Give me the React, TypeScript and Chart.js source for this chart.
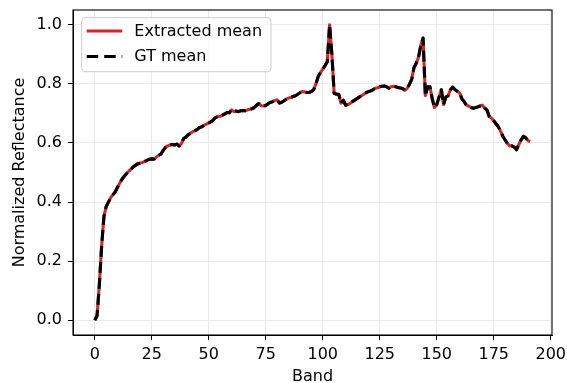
import React, { useEffect, useRef } from "react";
import { Chart, registerables } from "chart.js";

Chart.register(...registerables);

const W = 567;
const H = 383;

const xTicks = [0, 25, 50, 75, 100, 125, 150, 175, 200];
const yTicks = [0, 0.2, 0.4, 0.6, 0.8, 1.0];

const extractedMean = [
  0.0, 0.015, 0.12, 0.25, 0.35, 0.385, 0.4, 0.415, 0.425, 0.435,
  0.45, 0.465, 0.478, 0.488, 0.497, 0.505, 0.512, 0.52, 0.525, 0.53,
  0.532, 0.534, 0.538, 0.542, 0.545, 0.546, 0.545, 0.552, 0.558, 0.562,
  0.575, 0.585, 0.59, 0.593, 0.595, 0.593, 0.596, 0.59, 0.598, 0.615,
  0.62, 0.628, 0.633, 0.638, 0.642, 0.646, 0.652, 0.655, 0.66, 0.664,
  0.668, 0.672, 0.678, 0.686, 0.69, 0.69, 0.694, 0.698, 0.703, 0.702,
  0.712, 0.706, 0.708, 0.706, 0.709, 0.71, 0.709, 0.712, 0.714, 0.716,
  0.72, 0.728, 0.733, 0.726, 0.725, 0.727, 0.733, 0.737, 0.74, 0.744,
  0.746, 0.735, 0.738, 0.743, 0.748, 0.752, 0.754, 0.757, 0.76, 0.765,
  0.77, 0.774, 0.773, 0.771, 0.771, 0.774, 0.78, 0.8, 0.825, 0.838,
  0.85, 0.862, 0.875, 1.0, 0.9, 0.768, 0.765, 0.765, 0.735, 0.745,
  0.728, 0.73, 0.734, 0.74, 0.745, 0.75, 0.755, 0.76, 0.765, 0.77,
  0.774, 0.776, 0.78, 0.785, 0.787, 0.79, 0.792, 0.793, 0.79, 0.785,
  0.79, 0.792, 0.79, 0.788, 0.786, 0.784, 0.778, 0.785, 0.798, 0.815,
  0.855, 0.87, 0.89, 0.93, 0.955, 0.76, 0.79, 0.79, 0.75, 0.72,
  0.73, 0.755, 0.78, 0.73, 0.755, 0.76, 0.78, 0.789, 0.78, 0.775,
  0.77, 0.75, 0.74, 0.728, 0.725, 0.72, 0.717, 0.72, 0.722, 0.725,
  0.728, 0.718, 0.712, 0.69, 0.684, 0.675, 0.665, 0.655, 0.64, 0.622,
  0.61, 0.598, 0.59, 0.59, 0.586, 0.577, 0.595, 0.61, 0.622, 0.618,
  0.608, 0.605,
];

const gtMean = [
  0.0, 0.015, 0.12, 0.25, 0.35, 0.385, 0.4, 0.415, 0.425, 0.435,
  0.45, 0.465, 0.478, 0.488, 0.497, 0.505, 0.512, 0.52, 0.525, 0.53,
  0.532, 0.534, 0.538, 0.542, 0.545, 0.546, 0.545, 0.552, 0.558, 0.562,
  0.575, 0.585, 0.59, 0.593, 0.595, 0.593, 0.596, 0.59, 0.598, 0.615,
  0.62, 0.628, 0.633, 0.638, 0.642, 0.646, 0.652, 0.655, 0.66, 0.664,
  0.668, 0.672, 0.678, 0.686, 0.69, 0.69, 0.694, 0.698, 0.703, 0.702,
  0.712, 0.706, 0.708, 0.706, 0.709, 0.71, 0.709, 0.712, 0.714, 0.716,
  0.72, 0.728, 0.733, 0.726, 0.725, 0.727, 0.733, 0.737, 0.74, 0.744,
  0.746, 0.735, 0.738, 0.743, 0.748, 0.752, 0.754, 0.757, 0.76, 0.765,
  0.77, 0.774, 0.773, 0.771, 0.771, 0.774, 0.78, 0.8, 0.825, 0.838,
  0.85, 0.862, 0.875, 1.0, 0.9, 0.768, 0.765, 0.765, 0.735, 0.745,
  0.728, 0.73, 0.734, 0.74, 0.745, 0.75, 0.755, 0.76, 0.765, 0.77,
  0.774, 0.776, 0.78, 0.785, 0.787, 0.79, 0.792, 0.793, 0.79, 0.785,
  0.79, 0.792, 0.79, 0.788, 0.786, 0.784, 0.778, 0.785, 0.798, 0.815,
  0.855, 0.87, 0.89, 0.93, 0.955, 0.76, 0.79, 0.79, 0.75, 0.72,
  0.73, 0.755, 0.78, 0.73, 0.755, 0.76, 0.78, 0.789, 0.78, 0.775,
  0.77, 0.75, 0.74, 0.728, 0.725, 0.72, 0.717, 0.72, 0.722, 0.725,
  0.728, 0.718, 0.712, 0.69, 0.684, 0.675, 0.665, 0.655, 0.64, 0.622,
  0.61, 0.598, 0.59, 0.59, 0.586, 0.577, 0.595, 0.61, 0.622, 0.618,
  0.608, 0.605,
];

const seriesLabels = ["Extracted mean", "GT mean"];
const RED = "#d62728";
const FONT = "'DejaVu Sans', sans-serif";
const FS = 16;

const framePlugin = {
  id: "frame",
  afterDatasetsDraw(chart: any) {
    const { ctx, chartArea: a } = chart;
    ctx.save();
    ctx.strokeStyle = "#000";
    ctx.lineWidth = 1.1;
    ctx.strokeRect(a.left, a.top, a.right - a.left, a.bottom - a.top);
    ctx.restore();
  },
};

const legendPlugin = {
  id: "mplLegend",
  afterDraw(chart: any) {
    const { ctx } = chart;
    const x0 = 81.7, y0 = 17.7, w = 189.3, h = 54, r = 3.5;
    ctx.save();
    ctx.beginPath();
    ctx.moveTo(x0 + r, y0);
    ctx.arcTo(x0 + w, y0, x0 + w, y0 + h, r);
    ctx.arcTo(x0 + w, y0 + h, x0, y0 + h, r);
    ctx.arcTo(x0, y0 + h, x0, y0, r);
    ctx.arcTo(x0, y0, x0 + w, y0, r);
    ctx.closePath();
    ctx.fillStyle = "rgba(255,255,255,0.8)";
    ctx.fill();
    ctx.strokeStyle = "#cccccc";
    ctx.lineWidth = 1;
    ctx.stroke();

    const rows = [
      { y: 31, color: RED, dash: [] as number[], label: seriesLabels[0] },
      { y: 56.5, color: "#000", dash: [11.5, 6], label: seriesLabels[1] },
    ];
    rows.forEach((row) => {
      ctx.beginPath();
      ctx.setLineDash(row.dash);
      ctx.strokeStyle = row.color;
      ctx.lineWidth = 3;
      ctx.lineCap = "butt";
      ctx.moveTo(86.7, row.y);
      ctx.lineTo(122.3, row.y);
      ctx.stroke();
      ctx.setLineDash([]);
      ctx.fillStyle = "#000";
      ctx.font = `${FS}px ${FONT}`;
      ctx.textBaseline = "middle";
      ctx.textAlign = "left";
      ctx.fillText(row.label, 134.3, row.y + 0.5);
    });
    ctx.restore();
  },
};

export default function App() {
  const canvasRef = useRef<HTMLCanvasElement | null>(null);

  useEffect(() => {
    document.body.style.margin = "0";
    const canvas = canvasRef.current;
    if (!canvas) return;
    Chart.defaults.font.family = FONT;
    Chart.defaults.font.size = FS;
    Chart.defaults.color = "#000";

    const chart = new Chart(canvas, {
      type: "line",
      data: {
        datasets: [
          {
            label: seriesLabels[0],
            data: extractedMean.map((v, i) => ({ x: i, y: v })),
            borderColor: RED,
            borderWidth: 3.1,
            borderJoinStyle: "round",
            pointRadius: 0,
            tension: 0,
            fill: false,
            order: 2,
          },
          {
            label: seriesLabels[1],
            data: gtMean.map((v, i) => ({ x: i, y: v })),
            borderColor: "#000",
            borderWidth: 3.1,
            borderDash: [11, 5],
            borderJoinStyle: "round",
            borderCapStyle: "butt",
            pointRadius: 0,
            tension: 0,
            fill: false,
            order: 1,
          },
        ],
      },
      options: {
        animation: false,
        responsive: false,
        maintainAspectRatio: false,
        devicePixelRatio: 1,
        layout: { padding: { top: 10, right: 15, left: 0, bottom: 0 } },
        plugins: {
          legend: { display: false },
          tooltip: { enabled: false },
        },
        scales: {
          x: {
            type: "linear",
            min: -9.55,
            max: 200.55,
            afterBuildTicks: (s: any) => {
              s.ticks = xTicks.map((v) => ({ value: v }));
            },
            afterFit: (s: any) => {
              s.height = 48;
              s.paddingLeft = 0;
              s.paddingRight = 0;
            },
            grid: {
              color: "#ebebeb",
              lineWidth: 1,
              tickLength: 5,
              tickColor: "#000",
              tickWidth: 1,
            },
            border: { display: true, color: "#000", width: 1 },
            ticks: {
              padding: 5,
              maxRotation: 0,
              autoSkip: false,
              font: { size: FS, family: FONT },
              color: "#000",
              callback: (v: any) => String(v),
            },
            title: {
              display: true,
              text: "Band",
              color: "#000",
              font: { size: FS, family: FONT },
              padding: { top: 0, bottom: -3.5 },
            },
          },
          y: {
            type: "linear",
            min: -0.05,
            max: 1.05,
            afterBuildTicks: (s: any) => {
              s.ticks = yTicks.map((v) => ({ value: v }));
            },
            afterFit: (s: any) => {
              s.width = 73;
              s.paddingTop = 0;
              s.paddingBottom = 0;
            },
            grid: {
              color: "#ebebeb",
              lineWidth: 1,
              tickLength: 5,
              tickColor: "#000",
              tickWidth: 1,
            },
            border: { display: true, color: "#000", width: 1 },
            ticks: {
              padding: 6,
              autoSkip: false,
              font: { size: FS, family: FONT },
              color: "#000",
              callback: (v: any) => Number(v).toFixed(1),
            },
            title: {
              display: true,
              text: "Normalized Reflectance",
              color: "#000",
              font: { size: FS, family: FONT },
              padding: { top: 10.5, bottom: 0 },
            },
          },
        },
      },
      plugins: [framePlugin, legendPlugin],
    } as any);

    return () => chart.destroy();
  }, []);

  return (
    <div style={{ position: "absolute", left: 0, top: 0, width: W, height: H, background: "#fff" }}>
      <canvas ref={canvasRef} width={W} height={H} style={{ width: W, height: H, display: "block" }} />
    </div>
  );
}
